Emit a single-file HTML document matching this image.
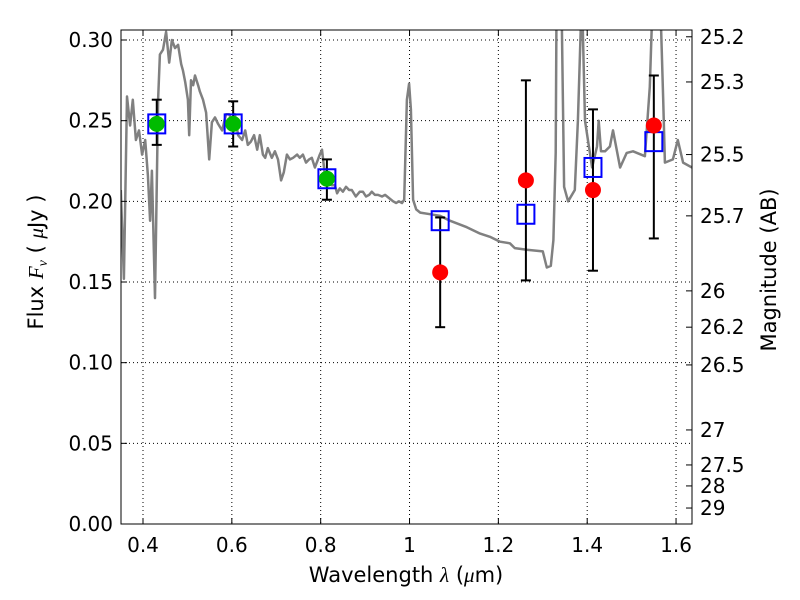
<!DOCTYPE html>
<html><head><meta charset="utf-8"><style>
html,body{margin:0;padding:0;background:#fff;}
svg{display:block;font-family:"DejaVu Sans","Liberation Sans",sans-serif;}
</style></head><body>
<svg id="chart" width="800" height="600"></svg>
<script>
const specLam=[0.350,0.357,0.364,0.371,0.377,0.384,0.391,0.398,0.405,0.411,0.416,0.420,0.427,0.434,0.438,0.445,0.452,0.459,0.465,0.472,0.479,0.486,0.490,0.495,0.501,0.504,0.508,0.513,0.517,0.524,0.528,0.535,0.542,0.549,0.555,0.562,0.569,0.578,0.587,0.594,0.600,0.607,0.614,0.623,0.630,0.636,0.643,0.650,0.657,0.663,0.670,0.675,0.681,0.690,0.697,0.704,0.711,0.717,0.724,0.731,0.738,0.747,0.753,0.760,0.767,0.774,0.780,0.787,0.794,0.798,0.803,0.810,0.816,0.825,0.832,0.837,0.843,0.850,0.857,0.864,0.870,0.879,0.888,0.895,0.902,0.909,0.915,0.922,0.929,0.938,0.945,0.954,0.963,0.970,0.976,0.983,0.988,0.994,0.999,1.003,1.008,1.015,1.024,1.046,1.069,1.091,1.129,1.159,1.181,1.204,1.226,1.237,1.264,1.300,1.309,1.318,1.324,1.329,1.331,1.342,1.348,1.357,1.372,1.379,1.388,1.395,1.411,1.422,1.426,1.431,1.440,1.451,1.458,1.474,1.489,1.503,1.530,1.541,1.548,1.564,1.571,1.575,1.593,1.604,1.616,1.636];
const specFlux=[0.207,0.152,0.265,0.247,0.263,0.238,0.244,0.229,0.238,0.216,0.188,0.219,0.140,0.263,0.291,0.294,0.305,0.286,0.300,0.295,0.297,0.285,0.281,0.274,0.263,0.241,0.275,0.272,0.278,0.272,0.268,0.263,0.255,0.226,0.249,0.252,0.248,0.244,0.254,0.254,0.250,0.254,0.241,0.238,0.244,0.235,0.237,0.241,0.232,0.241,0.229,0.227,0.233,0.227,0.231,0.226,0.213,0.218,0.229,0.226,0.227,0.229,0.227,0.229,0.224,0.226,0.227,0.221,0.226,0.229,0.232,0.215,0.211,0.210,0.210,0.205,0.208,0.206,0.209,0.207,0.207,0.203,0.206,0.206,0.203,0.204,0.206,0.204,0.204,0.203,0.204,0.202,0.200,0.199,0.200,0.199,0.201,0.263,0.273,0.257,0.201,0.195,0.193,0.192,0.191,0.188,0.184,0.180,0.178,0.175,0.174,0.171,0.170,0.169,0.159,0.160,0.176,0.230,0.33,0.33,0.209,0.200,0.207,0.250,0.33,0.250,0.221,0.234,0.250,0.231,0.231,0.234,0.244,0.221,0.230,0.231,0.228,0.271,0.33,0.33,0.263,0.224,0.226,0.238,0.224,0.221];
const photLam=[0.431,0.603,0.814];
const photFlux=[0.248,0.248,0.214];
const photHi=[0.263,0.262,0.226];
const photLo=[0.235,0.234,0.201];
const modelLam=[0.431,0.603,0.814,1.069,1.262,1.413,1.550];
const modelFlux=[0.248,0.248,0.214,0.188,0.192,0.221,0.237];
const nirLam=[1.069,1.262,1.413,1.550];
const nirFlux=[0.156,0.213,0.207,0.247];
const nirHi=[0.190,0.275,0.257,0.278];
const nirLo=[0.122,0.151,0.157,0.177];
const xTicks=[0.4,0.6,0.8,1.0,1.2,1.4,1.6];
const xTickLabels=["0.4","0.6","0.8","1","1.2","1.4","1.6"];
const yTicks=[0,0.05,0.10,0.15,0.20,0.25,0.30];
const yTickLabels=["0.00","0.05","0.10","0.15","0.20","0.25","0.30"];
const magLabels=["25.2","25.3","25.5","25.7","26","26.2","26.5","27","27.5","28","29"];
const magFlux=[0.302,0.274,0.229,0.191,0.1445,0.122,0.0986,0.0583,0.0366,0.0236,0.0099];

const L=121,R=692,T=30,B=524;
const xS=v=>143+(v-0.4)*444.2;
const yS=v=>524-v*1613.3;
const svg=document.getElementById('chart');
const NS='http://www.w3.org/2000/svg';
function mk(tag,at,parent){const e=document.createElementNS(NS,tag);for(const k in at)e.setAttribute(k,at[k]);(parent||svg).appendChild(e);return e;}

const defs=mk('defs',{});
const cp=mk('clipPath',{id:'plotclip'},defs);
mk('rect',{x:L,y:T,width:R-L,height:B-T},cp);

const grid=mk('g',{});


xTicks.forEach(v=>mk('line',{x1:xS(v),x2:xS(v),y1:T,y2:B,stroke:'#000','stroke-width':1,'stroke-dasharray':'1,3'},grid));
yTicks.forEach(v=>mk('line',{x1:L,x2:R,y1:yS(v),y2:yS(v),stroke:'#000','stroke-width':1,'stroke-dasharray':'1,3'},grid));

const plot=mk('g',{'clip-path':'url(#plotclip)'});
let d='';specLam.forEach((l,i)=>{d+=(i?'L':'M')+xS(l).toFixed(1)+','+yS(specFlux[i]).toFixed(1);});
const sp=mk('path',{d:d,fill:'none',stroke:'#808080','stroke-width':2.5,'stroke-linejoin':'round'},plot);



function ebar(x,lo,hi,name){const g=mk('g',{stroke:'#000','stroke-width':2},plot);


mk('line',{x1:xS(x),x2:xS(x),y1:yS(lo),y2:yS(hi)},g);
mk('line',{x1:xS(x)-5,x2:xS(x)+5,y1:yS(lo),y2:yS(lo)},g);
mk('line',{x1:xS(x)-5,x2:xS(x)+5,y1:yS(hi),y2:yS(hi)},g);}
photLam.forEach((l,i)=>ebar(l,photLo[i],photHi[i],'optical-error-bar'));
nirLam.forEach((l,i)=>ebar(l,nirLo[i],nirHi[i],'nir-error-bar'));

modelLam.forEach((l,i)=>{const r=mk('rect',{x:xS(l)-8.5,y:yS(modelFlux[i])-9.5,width:17,height:19,fill:'none',stroke:'#0000ff','stroke-width':2},plot);

});
photLam.forEach((l,i)=>{const c=mk('circle',{cx:xS(l),cy:yS(photFlux[i]),r:8,fill:'#00bb00'},plot);

});
nirLam.forEach((l,i)=>{const c=mk('circle',{cx:xS(l),cy:yS(nirFlux[i]),r:8,fill:'#ff0000'},plot);

});

const fr=mk('rect',{x:L,y:T,width:R-L,height:B-T,fill:'none',stroke:'#000','stroke-width':1});



xTicks.forEach((v,i)=>{mk('line',{x1:xS(v),x2:xS(v),y1:B,y2:B-6,stroke:'#000'});mk('line',{x1:xS(v),x2:xS(v),y1:T,y2:T+6,stroke:'#000'});
const t=mk('text',{x:xS(v),y:B+28,'font-size':20,'text-anchor':'middle'});t.textContent=xTickLabels[i];

});
yTicks.forEach((v,i)=>{mk('line',{x1:L,x2:L+6,y1:yS(v),y2:yS(v),stroke:'#000'});
const t=mk('text',{x:L-8,y:yS(v)+7,'font-size':20,'text-anchor':'end'});t.textContent=yTickLabels[i];

});
magFlux.forEach((v,i)=>{mk('line',{x1:R,x2:R-6,y1:yS(v),y2:yS(v),stroke:'#000'});
const t=mk('text',{x:R+8,y:yS(v)+7,'font-size':20});t.textContent=magLabels[i];

});

const xt=mk('text',{x:406,y:582,'font-size':21,'text-anchor':'middle'});
xt.innerHTML='Wavelength  <tspan font-style="italic" font-family="Liberation Serif,serif">λ</tspan> (<tspan font-style="italic" font-family="Liberation Serif,serif">μ</tspan>m)';


const yt=mk('text',{transform:'translate(43,262) rotate(-90)','font-size':21,'text-anchor':'middle'});
yt.innerHTML='Flux  <tspan font-style="italic" font-family="Liberation Serif,serif">F<tspan font-size="14" dy="4">ν</tspan></tspan><tspan dy="-4">  (  </tspan><tspan font-style="italic" font-family="Liberation Serif,serif">μ</tspan>Jy )';


const rt=mk('text',{transform:'translate(776,270) rotate(-90)','font-size':21,'text-anchor':'middle'});
rt.textContent='Magnitude (AB)';


</script>
</body></html>
